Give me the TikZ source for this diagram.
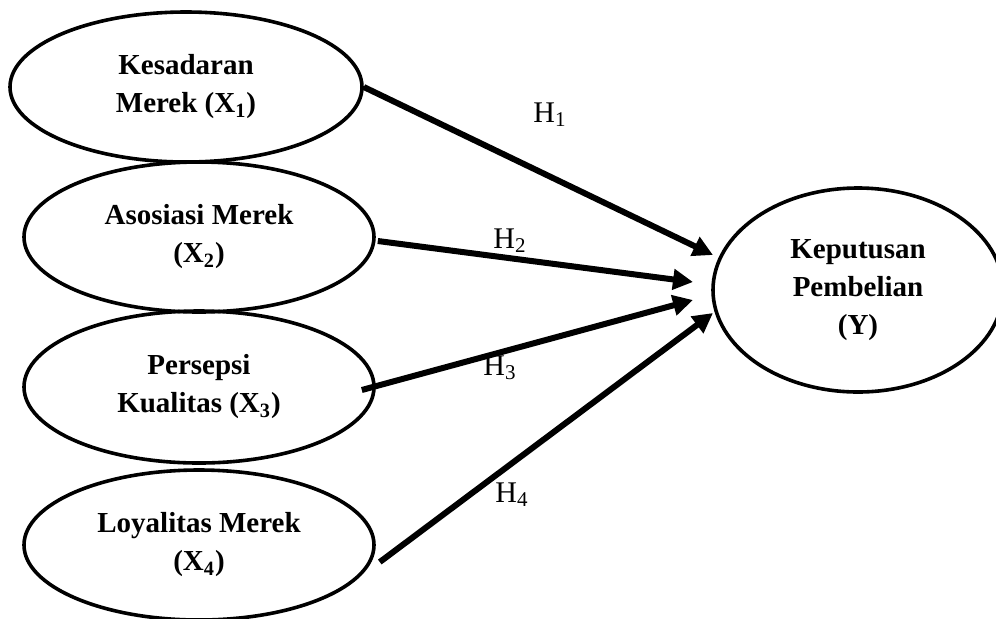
\documentclass[tikz,border=0pt]{standalone}
\usepackage{fontspec}
\setmainfont{Liberation Serif}
\usepackage{tikz}
\usetikzlibrary{arrows.meta,positioning,shapes.geometric,calc}
\tikzset{
  construct/.style={draw=black,ellipse,line width=1.8pt,inner sep=0pt,
                    align=center,font=\fontsize{14.5}{19}\selectfont\bfseries},
  hyparrow/.style={-{Triangle[length=10pt,width=10pt]},line width=3pt},
  hlabel/.style={anchor=base west,inner sep=0pt,font=\fontsize{15}{17}\selectfont},
}
\begin{document}
\begin{tikzpicture}[x=0.5pt,y=-0.5pt]
  \useasboundingbox(0,0)rectangle(996,618);
  % Independent variables
  \node[construct,minimum width=176pt,minimum height=75pt](x1)at(186,87)
    {Kesadaran\\Merek (X\textsubscript{1})};
  \node[construct,minimum width=175pt,minimum height=75pt](x2)at(199,237)
    {Asosiasi Merek\\(X\textsubscript{2})};
  \node[construct,minimum width=175pt,minimum height=76pt](x3)at(199,387)
    {Persepsi\\Kualitas (X\textsubscript{3})};
  \node[construct,minimum width=175pt,minimum height=75pt](x4)at(199,545)
    {Loyalitas Merek\\(X\textsubscript{4})};
  % Dependent variable
  \node[construct,minimum width=145pt,minimum height=102pt](y)at(858,290)
    {Keputusan\\Pembelian\\(Y)};
  % Arrow ends
  \coordinate(t1)at($(y.center)+(-145,-35)$);
  \coordinate(t2)at($(y.center)+(-165,-8)$);
  \coordinate(t3)at($(y.center)+(-165,10)$);
  \coordinate(t4)at($(y.center)+(-145,23)$);
  \draw[hyparrow](x1.east)--(t1);
  \draw[hyparrow]($(x2.east)+(2,4)$)--(t2);
  \draw[hyparrow]($(x3.east)+(-14,3)$)--(t3);
  \draw[hyparrow]($(x4.east)+(4,17)$)--(t4);
  % Hypothesis labels
  \node[hlabel](h1)at(533,122){H\textsubscript{1}};
  \node[hlabel](h2)at(493,248){H\textsubscript{2}};
  \node[hlabel](h3)at(483,375){H\textsubscript{3}};
  \node[hlabel](h4)at(495,502){H\textsubscript{4}};
\end{tikzpicture}
\end{document}
